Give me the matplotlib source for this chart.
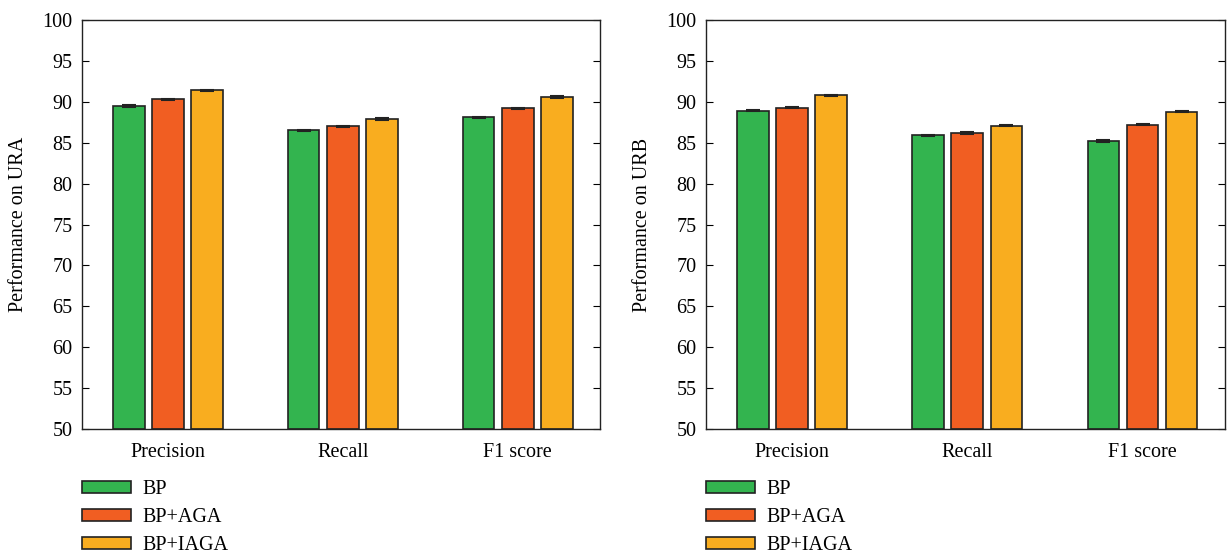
import numpy as np
import matplotlib.pyplot as plt

plt.rcParams['font.family'] = ['Liberation Serif', 'DejaVu Serif']

metrics = ['Precision', 'Recall', 'F1 score']
methods = ['BP', 'BP+AGA', 'BP+IAGA']
colors = ['#33b44f', '#f15e22', '#f9ad1f']

ura = [[89.5, 86.5, 88.1],
       [90.3, 87.0, 89.2],
       [91.4, 87.9, 90.6]]
urb = [[88.9, 85.9, 85.2],
       [89.3, 86.2, 87.2],
       [90.8, 87.1, 88.8]]
err = 0.08

fig = plt.figure(figsize=(12.3, 5.53), dpi=100)


def panel(rect, data, ylabel):
    ax = fig.add_axes(rect)
    x = np.arange(1, len(metrics) + 1)
    width = 0.18
    step = 0.223
    for i, (vals, c) in enumerate(zip(data, colors)):
        ax.bar(x + (i - 1) * step, [v - 50 for v in vals], bottom=50, width=width,
               color=c, edgecolor='#222222', linewidth=1.2, label=methods[i],
               yerr=err, error_kw=dict(ecolor='#222222', elinewidth=1, capsize=5, capthick=1.5))
    ax.set_xlim(0.51, 3.47)
    ax.set_ylim(50, 100)
    ax.set_yticks(np.arange(50, 101, 5))
    ax.set_xticks(x)
    ax.set_xticklabels(metrics)
    ax.tick_params(axis='x', length=0, pad=10, labelsize=14.5)
    ax.tick_params(axis='y', direction='in', right=True, length=5, labelsize=14.5, pad=7)
    ax.set_ylabel(ylabel, fontsize=14.5, labelpad=10)
    for s in ax.spines.values():
        s.set_linewidth(1.0)
        s.set_color('#222222')
    ax.legend(loc='upper left', bbox_to_anchor=(0.0, -0.125), frameon=False,
              fontsize=14.5, handlelength=2.45, handleheight=0.5,
              labelspacing=0.45, handletextpad=0.55, borderaxespad=0, borderpad=0)
    return ax


panel([0.0667, 0.2242, 0.4211, 0.7396], ura, 'Performance on URA')
panel([0.574, 0.2242, 0.4219, 0.7396], urb, 'Performance on URB')

plt.savefig('out.png', dpi=100)
